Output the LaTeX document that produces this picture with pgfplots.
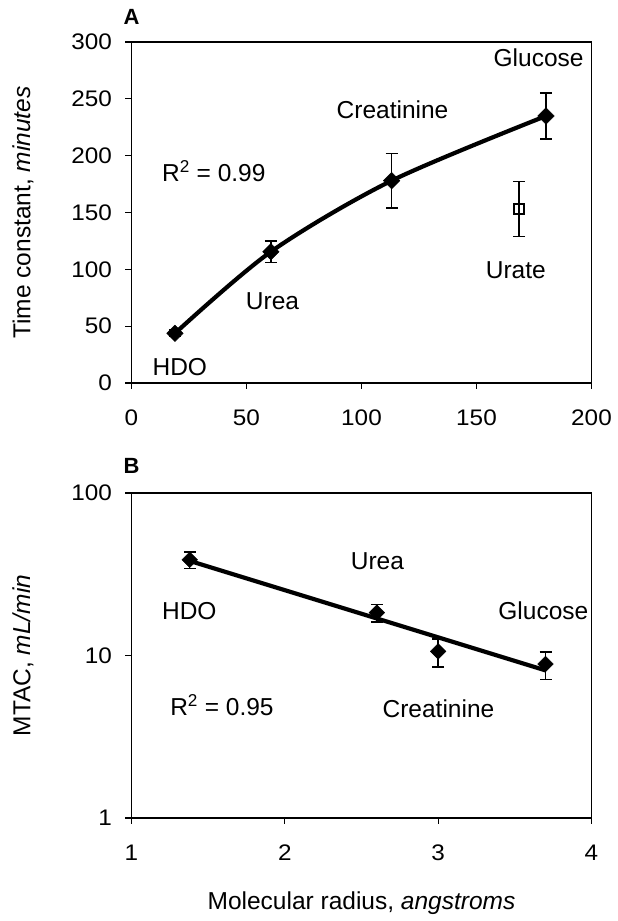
\documentclass[border=0pt]{standalone}
\usepackage{fontspec}
\setmainfont{Liberation Sans}
\newfontfamily\tickfont{Liberation Sans}[FakeStretch=1.08]
\usepackage{pgfplots}
\pgfplotsset{compat=1.18}
\newcommand{\lbl}{\fontsize{24.5}{29}\selectfont}
\newcommand{\tck}{\tickfont\fontsize{22.5}{27}\selectfont}
\newcommand{\pnl}{\bfseries\fontsize{22}{26}\selectfont}
\pgfplotsset{
  common/.style={
    scale only axis, width=460pt,
    tick pos=left,
    tick align=outside, major tick length=6pt,
    axis line style={line width=1.5pt},
    every tick/.style={line width=1.2pt, black},
    ticklabel style={font=\tck},
    yticklabel style={xshift=-10pt},
    xticklabel style={yshift=-17pt},
    /pgf/number format/assume math mode=true,
    label style={font=\lbl},
    clip=false,
  },
  ebar/.style={
    error bars/.cd, y dir=both, y explicit,
    error bar style={line width=1.4pt, black},
    error mark options={rotate=90, mark size=6pt, line width=1.4pt, black},
    /pgfplots/.cd,
  },
}
\pgfplotstableread{
x y err
18.9 43.7 3
60.6 115.5 9.5
113.1 178.0 24
180.2 234.9 20.2
}\tabA
\pgfplotstableread{
x y ep em
1.38 38.8 4.6 4.4
2.60 18.35 2.25 2.25
3.00 10.6 2.0 2.1
3.70 8.86 1.64 1.76
}\tabB
\begin{document}
\begin{tikzpicture}
\path[use as bounding box] (0,0) rectangle (618pt,921pt);
% Panel A
\begin{axis}[common,
  at={(131.5pt,538pt)}, anchor=south west, height=341pt,
  xmin=0, xmax=200, ymin=0, ymax=300,
  xtick={0,50,100,150,200}, ytick={0,50,100,150,200,250,300},
  ylabel={Time constant, \textit{minutes}},
  ylabel style={at={(axis description cs:-0.236,0.5)}, anchor=center},
]
\addplot[black, line width=4.2pt, smooth, tension=0.5, forget plot] table[x=x,y=y] {\tabA};
\addplot[only marks, mark=square*, mark size=5.8pt, mark options={rotate=45, fill=black, draw=black, line width=0.5pt}, ebar]
  table[x=x, y=y, y error=err] {\tabA};
\addplot[only marks, mark=square, mark size=4.8pt, mark options={fill=white, draw=black, line width=1.8pt}, ebar]
  coordinates {(168.5,153.1) +- (0,24.2)};
\node[anchor=base, font=\lbl] at (axis cs:177,278.3) {Glucose};
\node[anchor=base, font=\lbl] at (axis cs:113.5,232.9) {Creatinine};
\node[anchor=base, font=\lbl] at (axis cs:35.8,177.1) {R\textsuperscript{2} = 0.99};
\node[anchor=base, font=\lbl] at (axis cs:167.1,92.1) {Urate};
\node[anchor=base, font=\lbl] at (axis cs:61.3,64.8) {Urea};
\node[anchor=base, font=\lbl] at (axis cs:21,6.2) {HDO};
\node[font=\pnl, anchor=center, inner sep=0pt] at (axis description cs:0,1.073) {A};
\end{axis}
% Panel B
\begin{axis}[common,
  at={(131.5pt,103pt)}, anchor=south west, height=325pt,
  ymode=log, xmin=1, xmax=4, ymin=1, ymax=100,
  xtick={1,2,3,4}, ytick={1,10,100}, yticklabels={1,10,100},
  minor ytick={}, minor tick num=0,
  log basis y=10,
  ylabel={MTAC, \textit{mL/min}},
  ylabel style={at={(axis description cs:-0.236,0.5)}, anchor=center},
  xlabel={Molecular radius, \textit{angstroms}},
  xlabel style={at={(axis description cs:0.5,-0.262)}, anchor=center},
]
\addplot[black, line width=4.2pt, forget plot] coordinates {(1.38,38.2) (3.70,8.1)};
\addplot[only marks, mark=square*, mark size=5.5pt, mark options={rotate=45, fill=black, draw=black, line width=0.5pt}, ebar]
  table[x=x, y=y, y error plus=ep, y error minus=em] {\tabB};
\node[anchor=base, font=\lbl] at (axis cs:2.604,33.96) {Urea};
\node[anchor=base, font=\lbl] at (axis cs:1.377,16.7) {HDO};
\node[anchor=base, font=\lbl] at (axis cs:3.686,16.7) {Glucose};
\node[anchor=base, font=\lbl] at (axis cs:1.59,4.26) {R\textsuperscript{2} = 0.95};
\node[anchor=base, font=\lbl] at (axis cs:3.002,4.18) {Creatinine};
\node[font=\pnl, anchor=center, inner sep=0pt] at (axis description cs:0,1.082) {B};
\end{axis}
\end{tikzpicture}
\end{document}
